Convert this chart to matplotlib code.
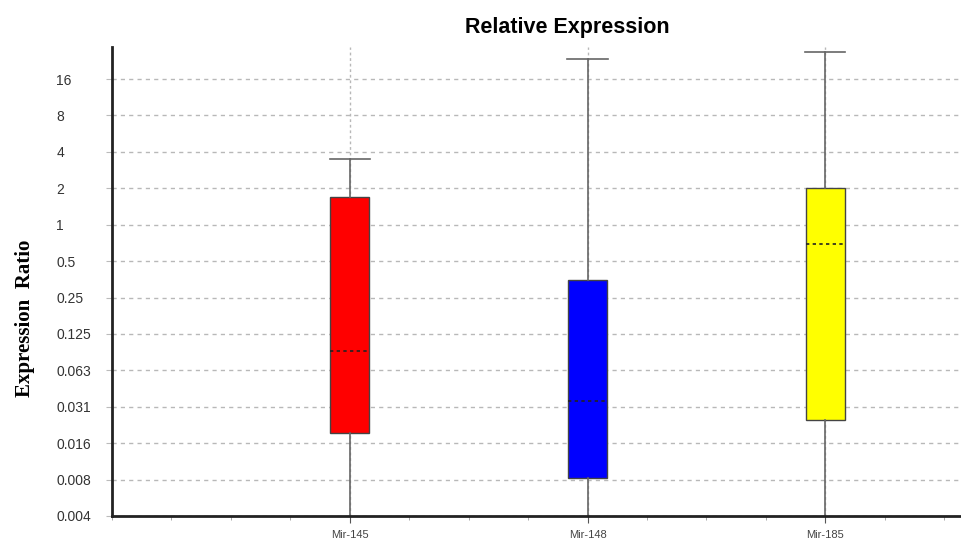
import matplotlib
matplotlib.use("Agg")
import matplotlib.pyplot as plt
import numpy as np
from matplotlib.ticker import FixedLocator, MultipleLocator, NullFormatter

# Data (log2 scale)
genes = ["Mir-145", "Mir-148", "Mir-185"]
q1 = [0.019, 0.0081, 0.0245]
median = [0.091, 0.035, 0.69]
q3 = [1.69, 0.352, 2.01]
whisk_hi = [3.47, 23.4, 26.6]
whisk_lo = [0.0035, 0.0035, 0.0035]
box_colors = ["#ff0000", "#0000ff", "#ffff00"]

ytick_vals = [16, 8, 4, 2, 1, 0.5, 0.25, 0.125, 0.0625, 0.03125, 0.015625, 0.0078125, 0.00390625]
ytick_labels = ["16", "8", "4", "2", "1", "0.5", "0.25", "0.125", "0.063", "0.031", "0.016", "0.008", "0.004"]

fig = plt.figure(figsize=(9.62, 5.38), dpi=100)
ax = fig.add_axes([0.1164, 0.0409, 0.8836, 0.8717])

stats = []
for g, lo, a, m, b, hi in zip(genes, whisk_lo, q1, median, q3, whisk_hi):
    stats.append(dict(label=g, whislo=lo, q1=a, med=m, q3=b, whishi=hi))

pos = np.arange(1, len(genes) + 1)
bp = ax.bxp(stats, positions=pos, widths=0.166, capwidths=0.17,
            showfliers=False, patch_artist=True,
            boxprops=dict(edgecolor="#444444", linewidth=1.0),
            whiskerprops=dict(color="#666666", linewidth=1.2),
            capprops=dict(color="#666666", linewidth=1.2),
            medianprops=dict(color="#222222", linewidth=1.2, linestyle=(0, (2, 2))))
for patch, c in zip(bp["boxes"], box_colors):
    patch.set_facecolor(c)

ax.set_yscale("log", base=2)
ax.set_ylim(2 ** -8, 2 ** 4.88)
ax.set_xlim(0, 3.575)

ax.set_yticks(ytick_vals, ytick_labels)
ax.yaxis.set_minor_locator(FixedLocator([]))
for lab in ax.get_yticklabels():
    lab.set_horizontalalignment("left")
    lab.set_fontfamily("Liberation Sans")
ax.tick_params(axis="y", which="major", length=4, color="#bbbbbb", pad=36,
               labelsize=10, labelcolor="#333333")

ax.set_xticks(pos, genes)
ax.xaxis.set_minor_locator(MultipleLocator(0.25))
ax.xaxis.set_minor_formatter(NullFormatter())
ax.tick_params(axis="x", which="major", length=5, color="#555555", pad=5,
               labelsize=8, labelcolor="#444444")
ax.tick_params(axis="x", which="minor", length=3, color="#999999")
for lab in ax.get_xticklabels():
    lab.set_fontfamily("Liberation Sans")

ax.set_axisbelow(True)
ax.grid(axis="y", which="major", color="#b8b8b8", linestyle=(0, (3, 3)), linewidth=1.0)
ax.grid(axis="x", which="major", color="#b8b8b8", linestyle=(0, (2, 2)), linewidth=1.0)

for s in ["top", "right"]:
    ax.spines[s].set_visible(False)
for s in ["left", "bottom"]:
    ax.spines[s].set_linewidth(2)
    ax.spines[s].set_color("#222222")

fig.text(0.59, 0.948, "Relative Expression", ha="center", va="center",
         fontsize=15.5, fontweight="bold", family="Liberation Sans")
fig.text(0.026, 0.409, "Expression  Ratio", ha="center", va="center", rotation=90,
         fontsize=15, fontweight="bold", family="Liberation Serif")

fig.savefig("out.png", dpi=100)
